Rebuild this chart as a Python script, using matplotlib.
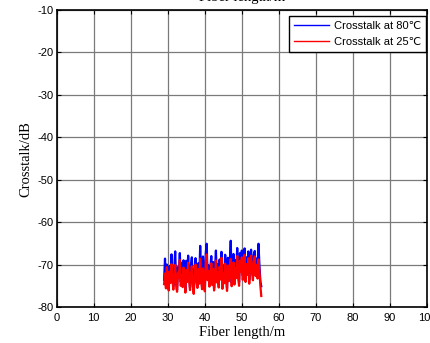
import numpy as np
import matplotlib
matplotlib.use("Agg")
import matplotlib.pyplot as plt

plt.rcParams["axes.unicode_minus"] = False

# Sampling positions along the fiber (m)
x_start, x_step, n_pts = 29.0, 0.25, 106
fiber_len = x_start + x_step * np.arange(n_pts)

crosstalk_80 = [
    -73.5, -68.5, -74.8, -69.9, -72.0, -75.6, -70.2, -73.0, -67.5, -72.8,
    -75.0, -70.8, -66.8, -73.9, -75.9, -70.5, -71.8, -67.2, -74.0, -69.5,
    -74.6, -68.9, -72.6, -76.0, -69.0, -73.2, -67.8, -72.4, -75.3, -70.0,
    -68.2, -73.8, -76.2, -71.0, -68.4, -72.7, -74.9, -69.6, -73.5, -65.5,
    -72.4, -75.0, -68.0, -71.5, -75.8, -67.3, -65.0, -72.6, -70.1, -74.5,
    -70.6, -67.9, -73.8, -69.3, -75.4, -71.2, -66.6, -73.3, -69.8, -74.6,
    -68.7, -72.4, -66.9, -75.0, -70.1, -73.5, -67.6, -71.0, -75.5, -68.3,
    -72.6, -69.7, -64.3, -74.2, -70.5, -67.4, -73.9, -68.9, -72.0, -66.0,
    -71.2, -74.1, -67.2, -70.0, -66.6, -72.5, -68.7, -66.1, -73.1, -68.2,
    -70.9, -66.8, -73.5, -68.8, -66.4, -70.4, -72.5, -67.5, -66.7, -71.3,
    -68.5, -72.1, -65.0, -70.0, -73.8, -75.0,
]

crosstalk_25 = [
    -74.5, -72.0, -75.5, -70.5, -73.8, -76.0, -71.5, -74.2, -69.8, -73.5,
    -75.8, -72.3, -70.0, -74.6, -76.3, -71.8, -73.0, -68.8, -74.9, -72.4,
    -75.2, -70.6, -73.7, -76.5, -71.2, -74.0, -69.5, -73.3, -75.9, -72.1,
    -70.3, -74.8, -76.8, -72.6, -69.9, -73.9, -75.4, -71.0, -74.4, -68.5,
    -73.2, -75.7, -70.8, -72.9, -76.2, -69.2, -67.5, -73.6, -71.4, -75.1,
    -72.2, -69.6, -74.7, -70.9, -76.0, -72.8, -68.9, -74.1, -71.7, -75.3,
    -70.4, -73.4, -68.3, -75.6, -71.9, -74.3, -69.7, -72.5, -76.1, -70.1,
    -73.8, -71.3, -68.6, -75.0, -72.0, -69.4, -74.6, -70.7, -73.1, -67.9,
    -72.7, -74.9, -69.0, -71.6, -68.2, -73.5, -70.5, -67.6, -74.0, -69.8,
    -72.3, -68.4, -74.4, -70.2, -67.8, -71.9, -73.6, -69.1, -68.0, -72.6,
    -70.0, -73.2, -68.7, -71.5, -74.8, -77.3,
]

x_ticks = list(range(0, 101, 10))
y_ticks = list(range(-80, -9, 10))
legend_labels = ["Crosstalk at 80\u2103", "Crosstalk at 25\u2103"]
axis_title = "Fiber length/m"
y_title = "Crosstalk/dB"

sans = ["Liberation Sans", "DejaVu Sans"]
serif = ["Liberation Serif", "DejaVu Serif"]

fig = plt.figure(figsize=(4.31, 3.43), dpi=100)
ax = fig.add_axes([0.1316, 0.1035, 0.859, 0.8675])

ax.plot(fiber_len, crosstalk_80, color="#0000ff", lw=1.6, label=legend_labels[0])
ax.plot(fiber_len, crosstalk_25, color="#ff0000", lw=1.6, label=legend_labels[1])

ax.set_xlim(0, 100)
ax.set_ylim(-80, -10)
ax.set_xticks(x_ticks)
ax.set_yticks(y_ticks)
ax.grid(True, color="#7a7a7a", lw=0.9, ls="-")
ax.set_axisbelow(True)
ax.tick_params(direction="in", length=3, width=0.8, top=True, right=True,
               labelsize=8, pad=2)
ax.tick_params(axis="x", pad=4)
for lab in ax.get_xticklabels() + ax.get_yticklabels():
    lab.set_family(sans)
for sp in ax.spines.values():
    sp.set_linewidth(1.2)
    sp.set_color("black")

ax.set_xlabel(axis_title, family=serif, fontsize=10.5, labelpad=2)
ax.set_ylabel(y_title, family=serif, fontsize=10.5, labelpad=4)
fig.text(0.561, 1.007, axis_title, family=serif, fontsize=10.5,
         ha="center", va="center")

leg = ax.legend(loc="upper right", prop={"family": sans, "size": 8},
                fancybox=False, framealpha=1, edgecolor="black",
                handlelength=3.2, handletextpad=0.4, borderaxespad=0.1,
                borderpad=0.45, labelspacing=0.55,
                bbox_to_anchor=(1.0, 0.985))
leg.get_frame().set_linewidth(1.0)
for h in leg.get_lines():
    h.set_linewidth(1.0)

fig.savefig("out.png", dpi=100)
